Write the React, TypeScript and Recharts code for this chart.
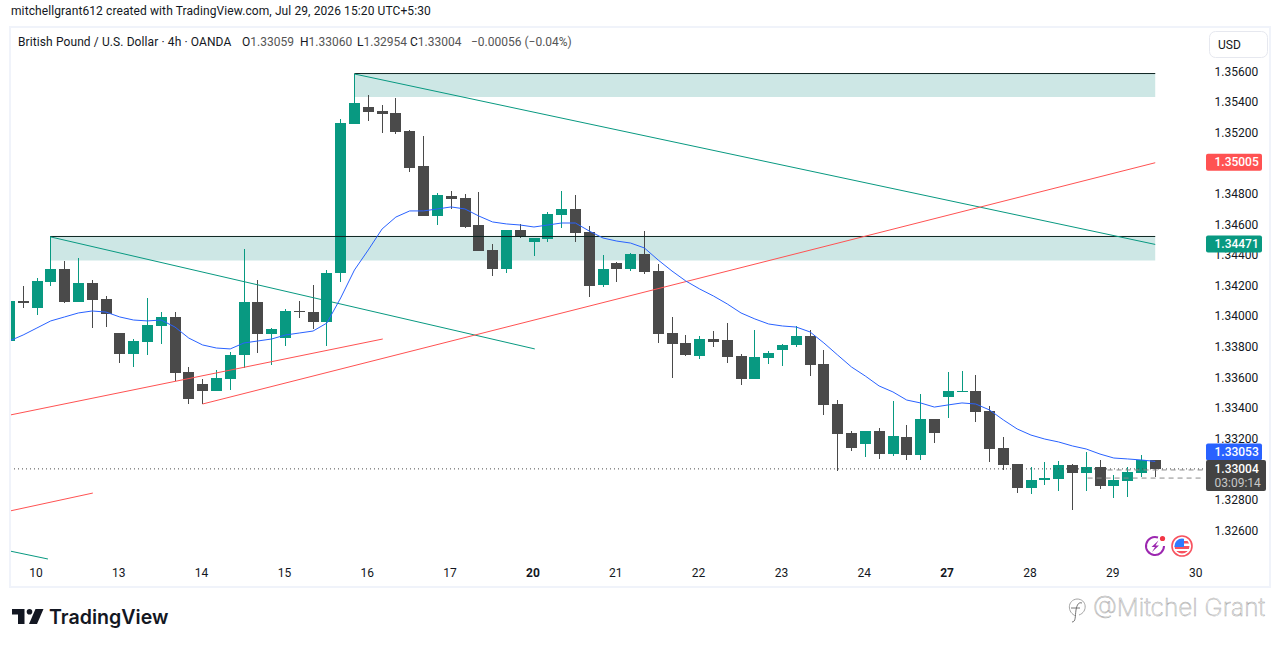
import React from 'react';
import { ComposedChart, Bar, Line, XAxis, YAxis, ReferenceArea, ReferenceLine } from 'recharts';

const opens = [1.3384, 1.34101, 1.34056, 1.34225, 1.3431, 1.34095, 1.34219, 1.34114, 1.33892, 1.33755, 1.33833, 1.33938, 1.33997, 1.33637, 1.33559, 1.33513, 1.33591, 1.33748, 1.34095, 1.33886, 1.33859, 1.34036, 1.34029, 1.33964, 1.34284, 1.35258, 1.35369, 1.35343, 1.3533, 1.35212, 1.34984, 1.34657, 1.34788, 1.34775, 1.34598, 1.34435, 1.3431, 1.34565, 1.34487, 1.34507, 1.34663, 1.34703, 1.34552, 1.34206, 1.3435, 1.3431, 1.34408, 1.34297, 1.33892, 1.33827, 1.33742, 1.33853, 1.33846, 1.33742, 1.33591, 1.33729, 1.33781, 1.33814, 1.33873, 1.3369, 1.33428, 1.33239, 1.33167, 1.33252, 1.33101, 1.33212, 1.33095, 1.3333, 1.33474, 1.33507, 1.33513, 1.33382, 1.33141, 1.33036, 1.32879, 1.32931, 1.32938, 1.33029, 1.32977, 1.33016, 1.32892, 1.32925, 1.32977, 1.33059];
const highs = [1.34101, 1.34199, 1.34252, 1.34523, 1.34363, 1.34382, 1.34239, 1.34134, 1.33892, 1.33853, 1.34121, 1.34029, 1.34029, 1.3367, 1.33591, 1.3365, 1.33768, 1.34441, 1.34239, 1.33925, 1.34049, 1.34101, 1.34206, 1.34304, 1.35291, 1.35585, 1.35448, 1.35382, 1.35428, 1.35219, 1.3518, 1.34807, 1.3482, 1.34801, 1.34814, 1.34474, 1.34565, 1.34605, 1.34513, 1.34683, 1.3482, 1.34794, 1.34591, 1.34402, 1.34356, 1.34415, 1.34559, 1.34343, 1.33997, 1.33879, 1.33873, 1.33905, 1.33957, 1.33755, 1.33912, 1.33775, 1.3382, 1.33938, 1.33912, 1.33781, 1.33454, 1.33252, 1.33252, 1.33271, 1.33448, 1.33291, 1.33493, 1.3333, 1.33637, 1.33644, 1.33618, 1.33415, 1.33212, 1.33036, 1.33016, 1.33049, 1.33056, 1.33036, 1.33114, 1.33062, 1.32964, 1.33016, 1.33095, 1.3306];
const lows = [1.3384, 1.34058, 1.3401, 1.34199, 1.34088, 1.34095, 1.33925, 1.33931, 1.33696, 1.3367, 1.33748, 1.3382, 1.33578, 1.33428, 1.33428, 1.33513, 1.3352, 1.33663, 1.33761, 1.33683, 1.33807, 1.3399, 1.33918, 1.33807, 1.34225, 1.35258, 1.35278, 1.35199, 1.35193, 1.34944, 1.34657, 1.34598, 1.34703, 1.34578, 1.34428, 1.34265, 1.34284, 1.34513, 1.34395, 1.34487, 1.34578, 1.34487, 1.34127, 1.34193, 1.34225, 1.34297, 1.34278, 1.33827, 1.33598, 1.33742, 1.33722, 1.33801, 1.33696, 1.33552, 1.33591, 1.3369, 1.33676, 1.33801, 1.33611, 1.33356, 1.3299, 1.33121, 1.33081, 1.33069, 1.33088, 1.33062, 1.33062, 1.33173, 1.33337, 1.33507, 1.3331, 1.33049, 1.32997, 1.32846, 1.3284, 1.32899, 1.32859, 1.32735, 1.32859, 1.32873, 1.32814, 1.3282, 1.32951, 1.32954];
const closes = [1.34101, 1.3409, 1.34232, 1.3431, 1.34095, 1.34219, 1.34108, 1.34016, 1.33755, 1.3384, 1.33944, 1.33997, 1.33631, 1.33461, 1.33513, 1.33598, 1.33748, 1.34095, 1.33886, 1.33918, 1.34036, 1.34029, 1.33964, 1.34284, 1.35265, 1.35395, 1.35337, 1.35324, 1.35206, 1.34971, 1.34657, 1.34794, 1.34768, 1.34585, 1.34428, 1.3431, 1.34565, 1.3452, 1.34513, 1.3467, 1.34703, 1.34546, 1.34199, 1.3431, 1.3431, 1.34408, 1.34291, 1.33886, 1.3382, 1.33748, 1.33853, 1.33833, 1.33735, 1.33591, 1.33735, 1.33761, 1.33814, 1.33873, 1.33683, 1.33422, 1.33232, 1.33141, 1.33252, 1.33101, 1.33219, 1.33095, 1.3333, 1.33239, 1.33513, 1.33513, 1.33376, 1.33134, 1.33029, 1.32879, 1.32931, 1.32944, 1.33029, 1.32977, 1.33016, 1.32892, 1.32931, 1.32984, 1.33062, 1.33004];
const movingAverage = [1.3384, 1.33879, 1.33925, 1.33971, 1.33997, 1.34023, 1.34036, 1.34029, 1.33997, 1.33977, 1.33971, 1.33977, 1.33931, 1.33859, 1.33814, 1.33794, 1.33788, 1.33827, 1.3384, 1.33853, 1.33879, 1.33892, 1.33905, 1.33957, 1.34121, 1.34304, 1.34435, 1.34572, 1.3465, 1.3469, 1.3469, 1.34703, 1.34716, 1.34703, 1.34657, 1.34618, 1.34605, 1.34598, 1.34585, 1.34598, 1.34611, 1.34611, 1.34559, 1.34513, 1.34493, 1.3448, 1.34448, 1.34369, 1.34297, 1.34232, 1.3418, 1.34134, 1.34082, 1.34023, 1.33984, 1.33951, 1.33938, 1.33931, 1.33899, 1.33827, 1.33748, 1.3367, 1.33611, 1.33546, 1.33507, 1.33454, 1.33435, 1.33408, 1.33422, 1.33435, 1.33428, 1.33389, 1.33324, 1.33265, 1.33225, 1.33199, 1.3318, 1.33154, 1.33134, 1.33101, 1.33075, 1.33069, 1.33062, 1.33053];

const dayTicks = [2, 8, 14, 20, 26, 32, 38, 44, 50, 56, 62, 68, 74, 80, 86];
const dayLabels = ['10', '13', '14', '15', '16', '17', '20', '21', '22', '23', '24', '27', '28', '29', '30'];
const boldDays = ['20', '27'];

const priceTicks = [1.356, 1.354, 1.352, 1.348, 1.346, 1.344, 1.342, 1.34, 1.338, 1.336, 1.334, 1.332, 1.328, 1.326];
const RED_TAG = 1.35005;
const TEAL_TAG = 1.34471;
const MA_TAG = 1.33053;
const LAST_TAG = 1.33004;

// [index, price] pairs
const supplyZone = { x1: 25, x2: 83, top: 1.35588, bottom: 1.35435 };
const demandZone = { x1: 3, x2: 83, top: 1.34523, bottom: 1.34366 };
const greenLines = [
  [[25, 1.35585], [83, 1.34471]],
  [[3, 1.3452], [38.06, 1.33788]],
  [[0.05, 1.32467], [2.8, 1.32415]],
];
const redLines = [
  [[14, 1.33428], [83, 1.35005]],
  [[0.05, 1.33356], [27.05, 1.33853]],
  [[0.05, 1.32729], [6.05, 1.32846]],
];
const grayLines = [
  [[79.55, 1.32997], [86.46, 1.32997]],
  [[78.1, 1.32944], [86.46, 1.32944]],
];

const chartData = opens.map((open, i) => ({
  index: i,
  open,
  high: highs[i],
  low: lows[i],
  close: closes[i],
  ma: movingAverage[i],
  range: [lows[i], highs[i]],
}));

const UP = '#089981';
const DOWN = '#4a4a4a';
const FONT = 'Roboto, sans-serif';

const Candle = (props: any) => {
  const { x, y, width, height, payload } = props;
  const { open, high, low, close } = payload;
  const color = close >= open ? UP : DOWN;
  const perUnit = Math.abs(height) / (high - low);
  const cx = Math.round(x + width / 2);
  const top = Math.round(y + (high - Math.max(open, close)) * perUnit);
  const bottom = Math.round(y + (high - Math.min(open, close)) * perUnit);
  return (
    <g shapeRendering="crispEdges">
      <rect x={cx} y={y} width={1} height={Math.abs(height)} fill={color} />
      <rect x={cx - 5} y={top} width={11} height={Math.max(bottom - top, 1)} fill={color} />
    </g>
  );
};

const DayTick = (props: any) => {
  const { x, y, payload } = props;
  const label = dayLabels[dayTicks.indexOf(payload.value)];
  return (
    <text x={x - 1} y={y} dy={9} textAnchor="middle" fontFamily={FONT} fontSize={12} fontWeight={boldDays.includes(label) ? 700 : 400} fill="#131722">
      {label}
    </text>
  );
};

const PriceTick = (props: any) => {
  const { x, y, payload } = props;
  const v = payload.value;
  const left = x - 5;
  const tag = (fill: string, rectY: number, rectH: number, textY: number) => (
    <g>
      <rect x={left} y={rectY} width={56} height={rectH} rx={2} fill={fill} />
      <text x={left + 8.5} y={textY} fontFamily={FONT} fontSize={12} fontWeight={500} fill="#fff">{v.toFixed(5)}</text>
    </g>
  );
  if (v === RED_TAG) return tag('#ff5252', y - 9, 17, y + 3.5);
  if (v === TEAL_TAG) return tag('#089981', y - 9, 17, y + 4);
  if (v === MA_TAG) return tag('#2962ff', y - 18, 17, y - 5.5);
  if (v === LAST_TAG) {
    return (
      <g>
        <rect x={left} y={y - 9} width={60} height={31} rx={2} fill="#434343" />
        <text x={left + 8.5} y={y + 4} fontFamily={FONT} fontSize={12} fontWeight={500} fill="#fff">{v.toFixed(5)}</text>
        <text x={left + 8.5} y={y + 18} fontFamily={FONT} fontSize={12} fill="#c8c8c8">03:09:14</text>
      </g>
    );
  }
  return (
    <text x={left + 8.5} y={y} dy={4} fontFamily={FONT} fontSize={12} fill="#131722">{v.toFixed(5)}</text>
  );
};

const segment = (line: number[][]) => line.map(([x, y]) => ({ x, y }));

const Overlay = () => (
  <svg width={1281} height={647} style={{ position: 'absolute', left: 0, top: 0, pointerEvents: 'none' }}>
    <rect x={10} y={27} width={1260} height={560} fill="none" stroke="#f0f3fa" strokeWidth={2} />
    <text x={11} y={15} fontFamily={FONT} fontSize={12} letterSpacing={0.1} fill="#131722">mitchellgrant612 created with TradingView.com, Jul 29, 2026 15:20 UTC+5:30</text>
    <g fontFamily={FONT} fontSize={12}>
      <text x={18} y={45.5} letterSpacing={0.1} fill="#131722">British Pound / U.S. Dollar · 4h · OANDA</text>
      <text x={242} y={45.5} fill="#131722">O<tspan fill="#555">1.33059</tspan></text>
      <text x={300} y={45.5} fill="#131722">H<tspan fill="#555">1.33060</tspan></text>
      <text x={357} y={45.5} fill="#131722">L<tspan fill="#555">1.32954</tspan></text>
      <text x={410} y={45.5} fill="#131722">C<tspan fill="#555">1.33004</tspan></text>
      <text x={471} y={45.5} fill="#555">−0.00056 (−0.04%)</text>
    </g>
    <rect x={1209.5} y={31.5} width={58} height={26} rx={6} fill="#fff" stroke="#e6e8ef" />
    <text x={1218} y={49} fontFamily={FONT} fontSize={12} fill="#131722">USD</text>

    <path d="M1164 546 a9 9 0 1 1 -6 -8.5" fill="none" stroke="#9c27b0" strokeWidth={2} />
    <path d="M1158.5 540.5 L1151.5 547 L1155 547 L1152 552 L1159 545.5 L1155.5 545.5 Z" fill="#9c27b0" />
    <circle cx={1162.5} cy={538.5} r={2.6} fill="#f23645" />
    <circle cx={1182} cy={546} r={10} fill="#fff" stroke="#f7525f" strokeWidth={1.6} />
    <clipPath id="flag"><circle cx={1182} cy={546} r={7.5} /></clipPath>
    <g clipPath="url(#flag)">
      <rect x={1174} y={538} width={16} height={16} fill="#fff" />
      <rect x={1174} y={546} width={16} height={3} fill="#f7525f" />
      <rect x={1174} y={551} width={16} height={4} fill="#f7525f" />
      <rect x={1182} y={541} width={8} height={2.5} fill="#f7525f" />
      <rect x={1174} y={538} width={10} height={9} fill="#2f7bff" />
    </g>

    <path d="M12 609 H24.5 V624 H18 V614.5 H12 Z" fill="#131722" />
    <circle cx={29.5} cy={611.7} r={2.8} fill="#131722" />
    <path d="M35.5 609 H43.5 L37 624 H29 Z" fill="#131722" />
    <text x={49} y={624} fontFamily="Inter, sans-serif" fontSize={19.6} fontWeight={600} fill="#131722">TradingView</text>

    <path d="M1076 616 C1067 613 1067 600 1077 599 C1087 599 1088 612 1079 615" fill="none" stroke="#9a9a9a" strokeWidth={0.9} />
    <path d="M1072 622 C1076 622 1075 616 1076 610 C1077 604 1079 602 1082 603 M1071 608 H1080" fill="none" stroke="#666" strokeWidth={0.9} />
    <text x={1093} y={616} fontFamily="Inter, sans-serif" fontSize={24.4} fontWeight={200} fill="#fff" stroke="#a8a8a8" strokeWidth={0.5}>@Mitchel Grant</text>
  </svg>
);

export default function App() {
  return (
    <div style={{ position: 'absolute', left: 0, top: 0, width: 1281, height: 647, background: '#fff' }}>
      <ComposedChart
        width={1281}
        height={647}
        data={chartData}
        margin={{ top: 28, right: 8, bottom: 60, left: 10 }}
      >
        <XAxis
          dataKey="index"
          type="number"
          domain={[0.05, 86.46]}
          allowDataOverflow
          ticks={dayTicks}
          interval={0}
          height={27}
          axisLine={false}
          tickLine={false}
          tick={<DayTick />}
        />
        <YAxis
          orientation="right"
          type="number"
          domain={[1.324085, 1.358856]}
          allowDataOverflow
          ticks={[...priceTicks, RED_TAG, TEAL_TAG, MA_TAG, LAST_TAG]}
          interval={0}
          width={70}
          axisLine={false}
          tickLine={false}
          tick={<PriceTick />}
        />
        {[supplyZone, demandZone].map((z, i) => (
          <ReferenceArea key={i} x1={z.x1} x2={z.x2} y1={z.bottom} y2={z.top} fill="#cde7e5" fillOpacity={1} stroke="none" />
        ))}
        {[supplyZone, demandZone].map((z, i) => (
          <ReferenceLine key={i} segment={[{ x: z.x1, y: z.top }, { x: z.x2, y: z.top }]} stroke="#0c2420" strokeWidth={1} />
        ))}
        {greenLines.map((l, i) => (
          <ReferenceLine key={i} segment={segment(l)} stroke={UP} strokeWidth={1} />
        ))}
        {redLines.map((l, i) => (
          <ReferenceLine key={i} segment={segment(l)} stroke="#ff5252" strokeWidth={1} />
        ))}
        {grayLines.map((l, i) => (
          <ReferenceLine key={i} segment={segment(l)} stroke="#8a8a8a" strokeWidth={1} strokeDasharray="5 4" />
        ))}
        <ReferenceLine y={closes[closes.length - 1]} stroke="#4a4a4a" strokeWidth={1} strokeDasharray="1 3" />
        <Line dataKey="ma" type="linear" stroke="#2962ff" strokeWidth={1} dot={false} activeDot={false} isAnimationActive={false} />
        <Bar dataKey="range" barSize={11} shape={<Candle />} isAnimationActive={false} />
      </ComposedChart>
      <Overlay />
    </div>
  );
}
